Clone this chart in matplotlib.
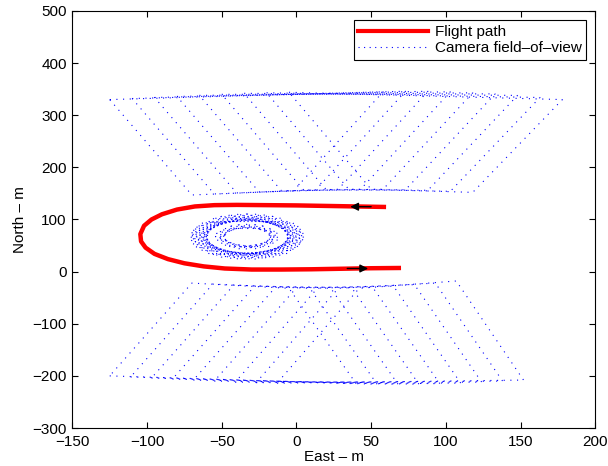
import matplotlib
matplotlib.use("Agg")
import matplotlib.pyplot as plt
from matplotlib.lines import Line2D

plt.rcParams['font.family'] = ['Liberation Sans', 'DejaVu Sans']

# Flight path (East, North) in metres
path_east = [60, 40, 20, 0, -20, -40, -55, -68, -80, -90, -97, -102, -104.5,
             -104, -101, -95, -86, -75, -62, -48, -30, -10, 10, 30, 50, 70]
path_north = [124, 125, 126, 127, 127.5, 128, 127.5, 125, 119, 110, 100, 88, 72,
              58, 46, 34, 24, 16, 10, 6, 4, 4, 4.5, 5.5, 6.5, 7]

# Direction arrows (tail east, head east, north)
arrow_top = (50, 36, 124.5)
arrow_bottom = (34, 48, 6)

# Camera footprints: corners far-left, far-right, near-right, near-left
upper_fov = [
    [(-125, 330), (58, 345), (-2, 155), (-70, 147)],
    [(-110, 332), (73, 346), (13, 157), (-55, 149)],
    [(-95, 334), (88, 346), (28, 158), (-40, 151)],
    [(-80, 336), (103, 345), (43, 158), (-25, 153)],
    [(-65, 338), (118, 343), (58, 158), (-10, 155)],
    [(-50, 340), (133, 341), (73, 157), (5, 156)],
    [(-35, 342), (148, 338), (88, 156), (20, 157)],
    [(-20, 343), (163, 334), (103, 154), (35, 158)],
    [(-5, 344), (178, 330), (118, 152), (50, 158)],
]
lower_fov = [
    [(-125, -200), (40, -215), (-5, -32), (-70, -22)],
    [(-111, -202), (54, -216), (9, -32), (-56, -24)],
    [(-97, -204), (68, -216), (23, -32), (-42, -26)],
    [(-83, -206), (82, -216), (37, -31), (-28, -28)],
    [(-69, -208), (96, -215), (51, -30), (-14, -30)],
    [(-55, -210), (110, -214), (65, -28), (0, -31)],
    [(-41, -212), (124, -212), (79, -25), (14, -32)],
    [(-27, -213), (138, -210), (93, -22), (28, -32)],
    [(-13, -214), (152, -208), (107, -18), (42, -32)],
]
turn_fov = [
    [(-6, 98), (-60, 98), (-60, 36), (-6, 36)],
    [(-10.6, 102.5), (-63.9, 92.8), (-55.4, 31.5), (-2.1, 41.2)],
    [(-15.7, 106.1), (-67, 86.9), (-50.3, 27.9), (1, 47.1)],
    [(-21.2, 108.7), (-69.3, 80.6), (-44.8, 25.3), (3.3, 53.4)],
    [(-27, 110.3), (-70.7, 73.9), (-39, 23.7), (4.7, 60.1)],
    [(-33, 110.8), (-71.2, 67), (-33, 23.2), (5.2, 67)],
    [(-39, 110.3), (-70.7, 60.1), (-27, 23.7), (4.7, 73.9)],
    [(-44.8, 108.7), (-69.3, 53.4), (-21.2, 25.3), (3.3, 80.6)],
    [(-50.3, 106.1), (-67, 47.1), (-15.7, 27.9), (1, 86.9)],
    [(-55.4, 102.5), (-63.9, 41.2), (-10.6, 31.5), (-2.1, 92.8)],
]
turn_fov_inner = [
    [(-18, 84), (-48, 84), (-48, 50), (-18, 50)],
    [(-22.4, 87.8), (-51.4, 79), (-43.6, 46.2), (-14.6, 55)],
    [(-27.5, 90.1), (-53.5, 73.2), (-38.5, 43.9), (-12.5, 60.8)],
    [(-33, 91), (-54.2, 67), (-33, 43), (-11.8, 67)],
    [(-38.5, 90.1), (-53.5, 60.8), (-27.5, 43.9), (-12.5, 73.2)],
    [(-43.6, 87.8), (-51.4, 55), (-22.4, 46.2), (-14.6, 79)],
]

x_ticks = [-150, -100, -50, 0, 50, 100, 150, 200]
y_ticks = [-300, -200, -100, 0, 100, 200, 300, 400, 500]

FS = 11

fig = plt.figure(figsize=(6.08, 4.66), dpi=100)
ax = fig.add_axes([0.119, 0.0815, 0.86, 0.895])


def draw_quads(quads, style):
    for quad in quads:
        xs = [p[0] for p in quad] + [quad[0][0]]
        ys = [p[1] for p in quad] + [quad[0][1]]
        ax.plot(xs, ys, color=(0, 0, 1), lw=0.8, linestyle=style)


draw_quads(upper_fov, (0, (1, 5)))
draw_quads(lower_fov, (0, (1, 5)))
draw_quads(turn_fov, (0, (1, 2.5)))
draw_quads(turn_fov_inner, (0, (1, 4)))

ax.plot(path_east, path_north, color=(1, 0, 0), lw=3.2, solid_capstyle='butt')

for (x0, x1, yv) in (arrow_top, arrow_bottom):
    ax.annotate('', xy=(x1, yv), xytext=(x0, yv),
                arrowprops=dict(arrowstyle='-|>', color='k', lw=1,
                                mutation_scale=12, shrinkA=0, shrinkB=0))

ax.set_xlim(-150, 200)
ax.set_ylim(-300, 500)
ax.set_xticks(x_ticks)
ax.set_yticks(y_ticks)
ax.set_xticklabels([str(v).replace('-', '\u2212') for v in x_ticks])
ax.set_yticklabels([str(v).replace('-', '\u2212') for v in y_ticks])
ax.tick_params(direction='in', top=True, right=True, labelsize=FS, length=4)
ax.tick_params(axis='x', pad=5)
ax.tick_params(axis='y', pad=4)
for s in ax.spines.values():
    s.set_linewidth(0.8)
ax.set_xlabel('East \u2013 m', fontsize=FS, labelpad=1)
ax.set_ylabel('North \u2013 m', fontsize=FS, labelpad=4)

handles = [Line2D([], [], color=(1, 0, 0), lw=3),
           Line2D([], [], color=(0, 0, 1), lw=0.8, linestyle=(0, (1, 4)))]
leg = ax.legend(handles, ['Flight path', 'Camera field\u2013of\u2013view'],
                loc='upper right', fontsize=FS, fancybox=False, framealpha=1,
                edgecolor='k', handlelength=4.6, borderaxespad=0.6,
                borderpad=0.3, labelspacing=0.15, handletextpad=0.4,
                handleheight=0.6)
leg.get_frame().set_linewidth(0.8)

fig.savefig('out.png', dpi=100)
